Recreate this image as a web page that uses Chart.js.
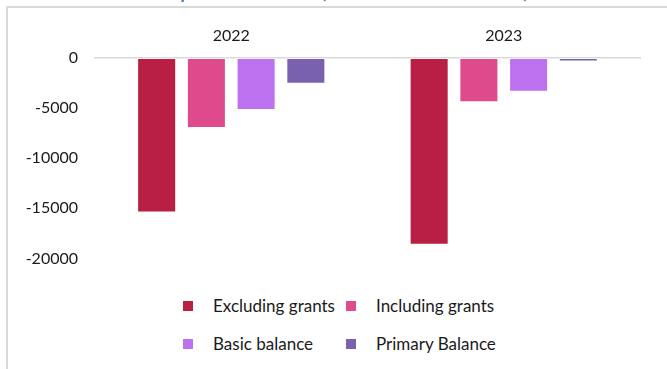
<!DOCTYPE html>
<html>
<head>
<meta charset="utf-8">
<title>Fiscal balance</title>
<script src="https://cdn.jsdelivr.net/npm/chart.js@4"></script>
<style>
    body { margin: 0; background: #fff; overflow: hidden; font-family: Lato, sans-serif; color: #1a1a1a; }
    #page { position: relative; width: 667px; height: 369px; overflow: hidden; }
    #title { position: absolute; left: 10px; top: -23px; font-size: 24px; line-height: 24px; color: #4472c4; white-space: nowrap; }
    #frame { position: absolute; left: 6px; top: 6px; width: 700px; height: 400px; border-top: 2px solid #d9d9d9; border-left: 2px solid #d9d9d9; }
    #chartBox { position: absolute; left: 0; top: 0; width: 667px; height: 285px; }
    .legendItem { position: absolute; font-size: 17px; line-height: 20px; white-space: nowrap; }
    .legendItem span { position: absolute; left: 0; top: 5px; width: 10px; height: 10px; }
    .legendItem b { position: absolute; left: 30px; top: 0; font-weight: normal; }
</style>
</head>
<body>
<div id="page">
    <div id="title">Chart 11: Fiscal performance (in millions of GMD)</div>
    <div id="frame"></div>
    <div id="chartBox"><canvas id="balanceChart"></canvas></div>
    <div id="legend"></div>
</div>
<script>
// Years on the category axis
const years = ['2022', '2023'];

// Overall balance series, million GMD
const excludingGrants = [-15420, -18650];
const includingGrants = [-6980, -4420];
const basicBalance = [-5180, -3380];
const primaryBalance = [-2580, -350];

const seriesNames = ['Excluding grants', 'Including grants', 'Basic balance', 'Primary Balance'];
const seriesColors = ['#b81f42', '#de4a8c', '#bc72ee', '#7a61b0'];

// y axis ticks
const yTicks = [0, -5000, -10000, -15000, -20000];

document.addEventListener('DOMContentLoaded', function() {
    const seriesValues = [excludingGrants, includingGrants, basicBalance, primaryBalance];

    const datasets = seriesNames.map(function(name, i) {
        return {
            label: name,
            data: seriesValues[i],
            backgroundColor: seriesColors[i],
            borderColor: 'rgba(255,255,255,0.45)',
            borderWidth: 1,
            borderSkipped: false,
            categoryPercentage: 0.73,
            barPercentage: 0.785
        };
    });

    const ctx = document.getElementById('balanceChart').getContext('2d');
    new Chart(ctx, {
        type: 'bar',
        data: { labels: years, datasets: datasets },
        options: {
            responsive: true,
            maintainAspectRatio: false,
            animation: false,
            layout: { padding: { left: 15, right: 27, top: 8, bottom: 12 } },
            scales: {
                x: {
                    position: 'top',
                    grid: { display: false, drawTicks: false },
                    border: { display: true, color: '#d9d9d9', width: 1.5 },
                    ticks: { color: '#1a1a1a', font: { family: 'Lato', size: 16 }, padding: 13 },
                    afterFit: function(scale) { scale.height = 50; }
                },
                y: {
                    min: Math.min.apply(null, yTicks),
                    max: Math.max.apply(null, yTicks),
                    grid: { display: false, drawTicks: false },
                    border: { display: false },
                    ticks: {
                        stepSize: 5000,
                        color: '#1a1a1a',
                        font: { family: 'Lato', size: 16 },
                        padding: 17,
                        callback: function(value) { return String(value); }
                    },
                    afterFit: function(scale) { scale.width = 80; }
                }
            },
            plugins: {
                legend: { display: false },
                tooltip: { enabled: false }
            }
        }
    });

    // Two-column legend under the plot
    const legend = document.getElementById('legend');
    const legendSpots = [[183, 296], [346, 296], [183, 334], [346, 334]];
    seriesNames.forEach(function(name, i) {
        const item = document.createElement('div');
        item.className = 'legendItem';
        item.style.left = legendSpots[i][0] + 'px';
        item.style.top = legendSpots[i][1] + 'px';
        const box = document.createElement('span');
        box.style.background = seriesColors[i];
        const text = document.createElement('b');
        text.textContent = name;
        item.appendChild(box);
        item.appendChild(text);
        legend.appendChild(item);
    });
});
</script>
</body>
</html>
